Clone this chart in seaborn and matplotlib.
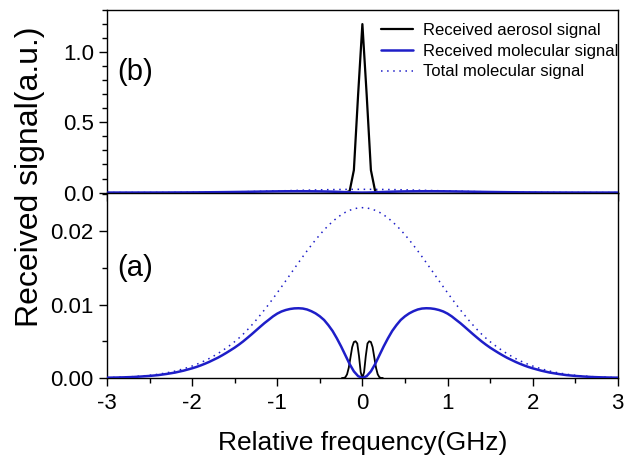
import numpy as np
import pandas as pd
import matplotlib
matplotlib.use("Agg")
import matplotlib.pyplot as plt
import seaborn as sns
from matplotlib.ticker import MultipleLocator

# ---- data ----
freq = [-3.0, -2.9, -2.8, -2.7, -2.6, -2.5, -2.4, -2.3, -2.2, -2.1,
        -2.0, -1.95, -1.9, -1.85, -1.8, -1.75, -1.7, -1.65, -1.6, -1.55,
        -1.5, -1.45, -1.4, -1.35, -1.3, -1.25, -1.2, -1.15, -1.1, -1.05,
        -1.0, -0.95, -0.9, -0.85, -0.8, -0.75, -0.7, -0.65, -0.6, -0.55,
        -0.5, -0.45, -0.4, -0.35, -0.3, -0.25, -0.2, -0.15, -0.1, -0.05,
        0.0,
        0.05, 0.1, 0.15, 0.2, 0.25, 0.3, 0.35, 0.4, 0.45, 0.5,
        0.55, 0.6, 0.65, 0.7, 0.75, 0.8, 0.85, 0.9, 0.95, 1.0,
        1.05, 1.1, 1.15, 1.2, 1.25, 1.3, 1.35, 1.4, 1.45, 1.5,
        1.55, 1.6, 1.65, 1.7, 1.75, 1.8, 1.85, 1.9, 1.95, 2.0,
        2.1, 2.2, 2.3, 2.4, 2.5, 2.6, 2.7, 2.8, 2.9, 3.0]

received_molecular = [
    0.00004, 0.00006, 0.00009, 0.00013, 0.0002, 0.00028, 0.00039, 0.00055, 0.00074, 0.0010,
    0.00132, 0.0015, 0.00171, 0.00194, 0.00219, 0.00247, 0.00275, 0.00307, 0.00341, 0.00377,
    0.00414, 0.00455, 0.00499, 0.00547, 0.00596, 0.00647, 0.00698, 0.00748, 0.00793, 0.00839,
    0.00877, 0.00906, 0.00926, 0.0094, 0.00948, 0.0095, 0.00946, 0.00933, 0.0091, 0.0088,
    0.0084, 0.0079, 0.0072, 0.0064, 0.0054, 0.0043, 0.0031, 0.0019, 0.0009, 0.00025,
    0.0,
    0.00025, 0.0009, 0.0019, 0.0031, 0.0043, 0.0054, 0.0064, 0.0072, 0.0079, 0.0084,
    0.0088, 0.0091, 0.00933, 0.00946, 0.0095, 0.00948, 0.0094, 0.00926, 0.00906, 0.00877,
    0.00839, 0.00793, 0.00748, 0.00698, 0.00647, 0.00596, 0.00547, 0.00499, 0.00455, 0.00414,
    0.00377, 0.00341, 0.00307, 0.00275, 0.00247, 0.00219, 0.00194, 0.00171, 0.0015, 0.00132,
    0.0010, 0.00074, 0.00055, 0.00039, 0.00028, 0.0002, 0.00013, 0.00009, 0.00006, 0.00004]

total_molecular = [
    0.00005, 0.00008, 0.00012, 0.00018, 0.00026, 0.00037, 0.00051, 0.0007, 0.00094, 0.00125,
    0.00163, 0.00185, 0.00209, 0.00236, 0.00265, 0.00297, 0.00331, 0.00368, 0.00408, 0.0045,
    0.00495, 0.00544, 0.00598, 0.00657, 0.0072, 0.00787, 0.00857, 0.00929, 0.01004, 0.01082,
    0.01161, 0.01242, 0.01324, 0.01407, 0.0149, 0.01572, 0.01653, 0.01732, 0.01808, 0.01882,
    0.01951, 0.02017, 0.02077, 0.02131, 0.0218, 0.02222, 0.02257, 0.02284, 0.02304, 0.02316,
    0.0232,
    0.02316, 0.02304, 0.02284, 0.02257, 0.02222, 0.0218, 0.02131, 0.02077, 0.02017, 0.01951,
    0.01882, 0.01808, 0.01732, 0.01653, 0.01572, 0.0149, 0.01407, 0.01324, 0.01242, 0.01161,
    0.01082, 0.01004, 0.00929, 0.00857, 0.00787, 0.0072, 0.00657, 0.00598, 0.00544, 0.00495,
    0.0045, 0.00408, 0.00368, 0.00331, 0.00297, 0.00265, 0.00236, 0.00209, 0.00185, 0.00163,
    0.00125, 0.00094, 0.0007, 0.00051, 0.00037, 0.00026, 0.00018, 0.00012, 0.00008, 0.00005]

# aerosol spectrum (panel b)
aer_freq = [-0.3, -0.2, -0.15, -0.1, -0.05, 0.0, 0.05, 0.1, 0.15, 0.2, 0.3]
aerosol = [0.0, 0.0, 0.01, 0.16, 0.70, 1.2, 0.70, 0.16, 0.01, 0.0, 0.0]

# received aerosol signal after the filter (panel a)
raer_freq = [-0.24, -0.22, -0.20, -0.18, -0.16, -0.14, -0.12, -0.10, -0.08, -0.06, -0.04, -0.02, 0.0,
             0.02, 0.04, 0.06, 0.08, 0.10, 0.12, 0.14, 0.16, 0.18, 0.20, 0.22, 0.24]
received_aerosol = [0.0, 0.0, 0.0001, 0.0005, 0.0014, 0.0028, 0.0042, 0.0049, 0.0050, 0.0047, 0.0030, 0.0008, 0.0,
                    0.0008, 0.0030, 0.0047, 0.0050, 0.0049, 0.0042, 0.0028, 0.0014, 0.0005, 0.0001, 0.0, 0.0]

x_ticks = [-3, -2, -1, 0, 1, 2, 3]
x_ticklabels = ["-3", "-2", "-1", "0", "1", "2", "3"]
top_yticks = [0.0, 0.5, 1.0]
top_yticklabels = ["0.0", "0.5", "1.0"]
bot_yticks = [0.00, 0.01, 0.02]
bot_yticklabels = ["0.00", "0.01", "0.02"]

mol = pd.DataFrame({"freq": freq, "received": received_molecular, "total": total_molecular})
aer = pd.DataFrame({"freq": aer_freq, "signal": aerosol})
raer = pd.DataFrame({"freq": raer_freq, "signal": received_aerosol})

# ---- style ----
sns.set_style("ticks")
plt.rcParams["font.family"] = ["Liberation Sans", "DejaVu Sans"]
plt.rcParams["axes.linewidth"] = 1.0
plt.rcParams["text.color"] = "black"
plt.rcParams["axes.labelcolor"] = "black"
plt.rcParams["xtick.color"] = "black"
plt.rcParams["ytick.color"] = "black"

BLUE = "#1e1ec8"

fig = plt.figure(figsize=(6.24, 4.57), dpi=100)
ax_top = fig.add_axes([0.1715, 0.5777, 0.8185, 0.4003])
ax_bot = fig.add_axes([0.1715, 0.1729, 0.8185, 0.4048])

# top panel (b)
sns.lineplot(data=mol, x="freq", y="total", ax=ax_top, color=BLUE, linewidth=1.1,
             linestyle=(0, (1, 3)), label="Total molecular signal", zorder=2)
sns.lineplot(data=aer, x="freq", y="signal", ax=ax_top, color="black", linewidth=1.6,
             label="Received aerosol signal", zorder=3)
sns.lineplot(data=mol, x="freq", y="received", ax=ax_top, color=BLUE, linewidth=1.8,
             label="Received molecular signal", zorder=4)

# bottom panel (a)
sns.lineplot(data=mol, x="freq", y="total", ax=ax_bot, color=BLUE, linewidth=1.1,
             linestyle=(0, (1, 3)), zorder=2)
sns.lineplot(data=raer, x="freq", y="signal", ax=ax_bot, color="black", linewidth=1.3, zorder=3)
sns.lineplot(data=mol, x="freq", y="received", ax=ax_bot, color=BLUE, linewidth=1.8, zorder=4)

for ax in (ax_top, ax_bot):
    ax.set_xlim(-3, 3)
    ax.set_xticks(x_ticks)
    ax.xaxis.set_minor_locator(MultipleLocator(0.5))
    for s in ax.spines.values():
        s.set_visible(True)
        s.set_color("black")
        s.set_linewidth(1.0)
    ax.tick_params(which="major", direction="out", length=6, width=1.0, labelsize=16,
                   top=False, right=False, colors="black")
    ax.tick_params(which="minor", direction="out", length=3.5, width=1.0,
                   top=False, right=False, colors="black")
    ax.set_ylabel("")
    ax.set_xlabel("")

ax_top.set_ylim(-0.003, 1.3)
ax_top.set_yticks(top_yticks)
ax_top.set_yticklabels(top_yticklabels)
ax_top.yaxis.set_minor_locator(MultipleLocator(0.1))
ax_top.tick_params(axis="x", labelbottom=False)

ax_bot.set_ylim(0, 0.0252)
ax_bot.set_yticks(bot_yticks)
ax_bot.set_yticklabels(bot_yticklabels)
ax_bot.yaxis.set_minor_locator(MultipleLocator(0.005))
ax_bot.set_xticklabels(x_ticklabels)
ax_bot.tick_params(axis="x", which="major", pad=5)

ax_bot.set_xlabel("Relative frequency(GHz)", fontsize=19, labelpad=12)
fig.text(0.048, 0.613, "Received signal(a.u.)", rotation=90, fontsize=23,
         ha="center", va="center")

ax_top.text(0.021, 0.66, "(b)", transform=ax_top.transAxes, fontsize=21, va="center")
ax_bot.text(0.021, 0.595, "(a)", transform=ax_bot.transAxes, fontsize=21, va="center")

handles, labels = ax_top.get_legend_handles_labels()
order = [labels.index("Received aerosol signal"), labels.index("Received molecular signal"),
         labels.index("Total molecular signal")]
ax_top.legend([handles[i] for i in order], [labels[i] for i in order],
              loc="upper right", bbox_to_anchor=(1.02, 0.985), frameon=False, fontsize=12,
              handlelength=1.9, handletextpad=0.6, labelspacing=0.35, borderaxespad=0.2)

fig.savefig("out.png", dpi=100)
